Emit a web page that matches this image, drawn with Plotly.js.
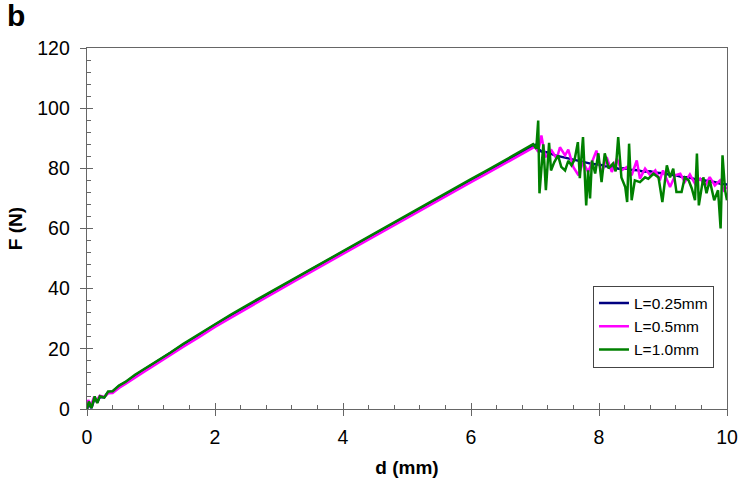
<!DOCTYPE html>
<html>
<head>
<meta charset="utf-8">
<script src="https://cdn.plot.ly/plotly-3.0.1.min.js"></script>
<style>html,body{margin:0;padding:0;background:#fff;}#chart{width:740px;height:484px;}</style>
</head>
<body>
<div id="chart"></div>
<script>
// ---- data ----
const seriesNames = ["L=0.25mm", "L=0.5mm", "L=1.0mm"];

const dNavy = [0, 0.03, 0.07, 0.12, 0.16, 0.2, 0.27, 0.33, 0.4, 0.5, 0.6, 0.75, 0.9, 1.0, 1.15, 1.3, 1.5, 1.75, 2.0, 2.25, 2.5, 2.75, 3.0, 3.25, 3.5, 3.75, 4.0, 4.25, 4.5, 4.75, 5.0, 5.25, 5.5, 5.75, 6.0, 6.25, 6.5, 6.75, 6.9, 7.0,
  7.05, 7.1, 7.2, 7.3, 7.4, 7.5, 7.6, 7.7, 7.8, 7.9, 8.0, 8.1, 8.2, 8.3, 8.4, 8.5, 8.6, 8.7, 8.8, 8.9, 9.0, 9.1, 9.2, 9.3, 9.4, 9.5, 9.6, 9.7, 9.8, 9.9, 10.0];
const fNavy = [0, 1.5, 0.3, 3.8, 2.2, 4.0, 3.9, 5.6, 5.8, 7.6, 8.9, 11.2, 13.2, 14.5, 16.6, 18.5, 21.3, 24.6, 28.0, 31.1, 34.2, 37.2, 40.3, 43.3, 46.3, 49.3, 52.3, 55.3, 58.3, 61.3, 64.3, 67.2, 70.2, 73.2, 76.1, 79.0, 82.0, 84.9, 86.8, 87.8,
  86.5, 85.6, 85.3, 84.4, 83.9, 83.4, 82.9, 82.4, 82.1, 81.4, 81.3, 80.7, 80.6, 79.9, 80.0, 79.5, 79.4, 78.9, 79.0, 78.5, 78.4, 77.9, 77.7, 77.1, 77.0, 76.4, 76.3, 75.7, 75.5, 74.9, 74.6];

const dMagenta = [0, 0.02, 0.06, 0.11, 0.15, 0.2, 0.27, 0.33, 0.4, 0.5, 0.6, 0.75, 0.9, 1.0, 1.15, 1.3, 1.5, 1.75, 2.0, 2.25, 2.5, 2.75, 3.0, 3.25, 3.5, 3.75, 4.0, 4.25, 4.5, 4.75, 5.0, 5.25, 5.5, 5.75, 6.0, 6.25, 6.5, 6.75, 6.9, 7.0,
  7.05, 7.10, 7.16, 7.26, 7.34, 7.39, 7.47, 7.52, 7.60, 7.68, 7.75, 7.83, 7.96, 8.04, 8.12, 8.20, 8.28, 8.35, 8.43, 8.51, 8.59, 8.64, 8.72, 8.80, 8.88, 8.95, 9.00, 9.11, 9.19, 9.27, 9.34, 9.42, 9.50, 9.58, 9.66, 9.73, 9.81, 9.89, 9.95, 10.0];
const fMagenta = [0, 3.0, 1.0, 4.0, 2.8, 4.4, 4.0, 5.2, 5.3, 7.0, 8.3, 10.5, 12.5, 13.8, 15.9, 17.8, 20.6, 23.9, 27.3, 30.4, 33.5, 36.5, 39.6, 42.6, 45.6, 48.6, 51.6, 54.6, 57.6, 60.6, 63.6, 66.5, 69.5, 72.5, 75.4, 78.3, 81.3, 84.2, 86.1, 87.2,
  85.5, 90.9, 83.7, 85.9, 83.2, 87.0, 84.3, 86.2, 80.4, 77.7, 82.1, 78.8, 85.9, 78.2, 83.7, 78.8, 83.2, 79.3, 80.4, 77.7, 82.6, 76.6, 79.9, 77.7, 79.3, 76.0, 79.3, 73.8, 77.7, 78.2, 75.4, 78.0, 74.9, 76.6, 74.3, 77.1, 74.3, 76.0, 72.7, 73.8];

const dGreen = [0, 0.03, 0.07, 0.12, 0.16, 0.2, 0.27, 0.33, 0.4, 0.5, 0.6, 0.75, 0.9, 1.0, 1.15, 1.3, 1.5, 1.75, 2.0, 2.25, 2.5, 2.75, 3.0, 3.25, 3.5, 3.75, 4.0, 4.25, 4.5, 4.75, 5.0, 5.25, 5.5, 5.75, 6.0, 6.25, 6.5, 6.75, 6.9, 6.97,
  7.02, 7.05, 7.07, 7.13, 7.17, 7.22, 7.25, 7.30, 7.36, 7.41, 7.47, 7.52, 7.57, 7.62, 7.67, 7.70, 7.75, 7.80, 7.83, 7.86, 7.89, 7.94, 7.99, 8.04, 8.09, 8.15, 8.22, 8.26, 8.30, 8.35, 8.41, 8.44, 8.47, 8.51, 8.56, 8.64, 8.72, 8.77, 8.85, 8.93,
  8.99, 9.06, 9.11, 9.16, 9.21, 9.29, 9.34, 9.40, 9.45, 9.50, 9.53, 9.56, 9.63, 9.68, 9.73, 9.80, 9.86, 9.90, 9.93, 9.97, 10.0];
const fGreen = [0, 2.5, 0.4, 4.2, 2.0, 4.2, 3.8, 5.8, 5.9, 7.8, 9.0, 11.4, 13.4, 14.7, 16.9, 18.7, 21.6, 24.9, 28.3, 31.4, 34.5, 37.5, 40.6, 43.6, 46.6, 49.6, 52.6, 55.6, 58.6, 61.6, 64.6, 67.5, 70.5, 73.5, 76.4, 79.3, 82.3, 85.2, 87.1, 88.0,
  86.5, 95.9, 71.7, 88.0, 72.7, 88.5, 79.3, 82.0, 84.3, 80.5, 79.3, 82.5, 81.0, 83.0, 88.7, 76.7, 90.4, 67.7, 79.3, 70.0, 82.6, 78.3, 85.0, 75.4, 85.0, 80.0, 81.6, 79.0, 90.4, 77.0, 73.8, 68.8, 88.2, 69.4, 76.0, 75.4, 77.0, 76.5, 78.2, 77.0,
  68.8, 81.0, 77.0, 79.9, 72.1, 72.1, 77.0, 76.0, 73.3, 69.4, 84.9, 67.7, 77.0, 71.7, 76.0, 69.4, 72.7, 60.0, 84.3, 72.7, 69.4];

const xTickVals = [0, 2, 4, 6, 8, 10];
const yTickVals = [0, 20, 40, 60, 80, 100, 120];

// ---- chart ----
const FONT = "Liberation Sans, Arial, sans-serif";
const axisCol = "#666666";

const traces = [
  {x: dNavy, y: fNavy, name: seriesNames[0], mode: "lines", line: {color: "#000080", width: 2.5}},
  {x: dMagenta, y: fMagenta, name: seriesNames[1], mode: "lines", line: {color: "#FF00FF", width: 2.5}},
  {x: dGreen, y: fGreen, name: seriesNames[2], mode: "lines", line: {color: "#008000", width: 2.5}},
  {x: [], y: [], xaxis: "x2", yaxis: "y2", showlegend: false, hoverinfo: "skip"}
];

const baseAxis = {
  showgrid: false, zeroline: false, showline: true, linecolor: axisCol, linewidth: 1.3,
  ticks: "inside", ticklen: 6, tickwidth: 1, tickcolor: axisCol,
  mirror: true,
  tickfont: {family: FONT, size: 19.5, color: "#000"}
};

const layout = {
  width: 740, height: 484,
  paper_bgcolor: "#fff", plot_bgcolor: "#fff",
  margin: {l: 87, r: 13, t: 48, b: 75, pad: 0},
  showlegend: true,
  xaxis: Object.assign({}, baseAxis, {
    range: [0, 10], tickvals: xTickVals, ticktext: xTickVals.map(String),
    minor: {ticks: "inside", ticklen: 4, tickcolor: axisCol, dtick: 0.4, tick0: 0, showgrid: false},
    ticklabelstandoff: 10,
    title: {text: "<b>d (mm)</b>", font: {family: FONT, size: 19, color: "#000"}, standoff: 14}
  }),
  yaxis: Object.assign({}, baseAxis, {
    range: [0, 120], tickvals: yTickVals, ticktext: yTickVals.map(String),
    minor: {ticks: "inside", ticklen: 4, tickcolor: axisCol, dtick: 4, tick0: 0, showgrid: false},
    ticklabelstandoff: 12,
    title: {text: "<b>F (N)</b>", font: {family: FONT, size: 19, color: "#000"}, standoff: 9}
  }),
  xaxis2: {overlaying: "x", anchor: "y2", range: [0, 10], tickvals: xTickVals, showticklabels: false,
    ticks: "outside", ticklen: 6, tickcolor: axisCol, showline: false, showgrid: false, zeroline: false},
  yaxis2: {overlaying: "y", anchor: "x2", side: "left", range: [0, 120], tickvals: yTickVals, showticklabels: false,
    ticks: "outside", ticklen: 6, tickcolor: axisCol, showline: false, showgrid: false, zeroline: false},
  legend: {
    x: 0.7906, y: 0.342, xanchor: "left", yanchor: "top",
    bordercolor: "#444", borderwidth: 1, bgcolor: "#fff",
    font: {family: FONT, size: 15.5, color: "#000"},
    tracegroupgap: 0
  },
  annotations: [{
    text: "<b>b</b>", xref: "paper", yref: "paper", x: -0.128, y: 1.14,
    xanchor: "left", yanchor: "top", showarrow: false,
    font: {family: FONT, size: 30, color: "#000"}
  }]
};

Plotly.newPlot("chart", traces, layout, {staticPlot: true, displayModeBar: false});
</script>
</body>
</html>
